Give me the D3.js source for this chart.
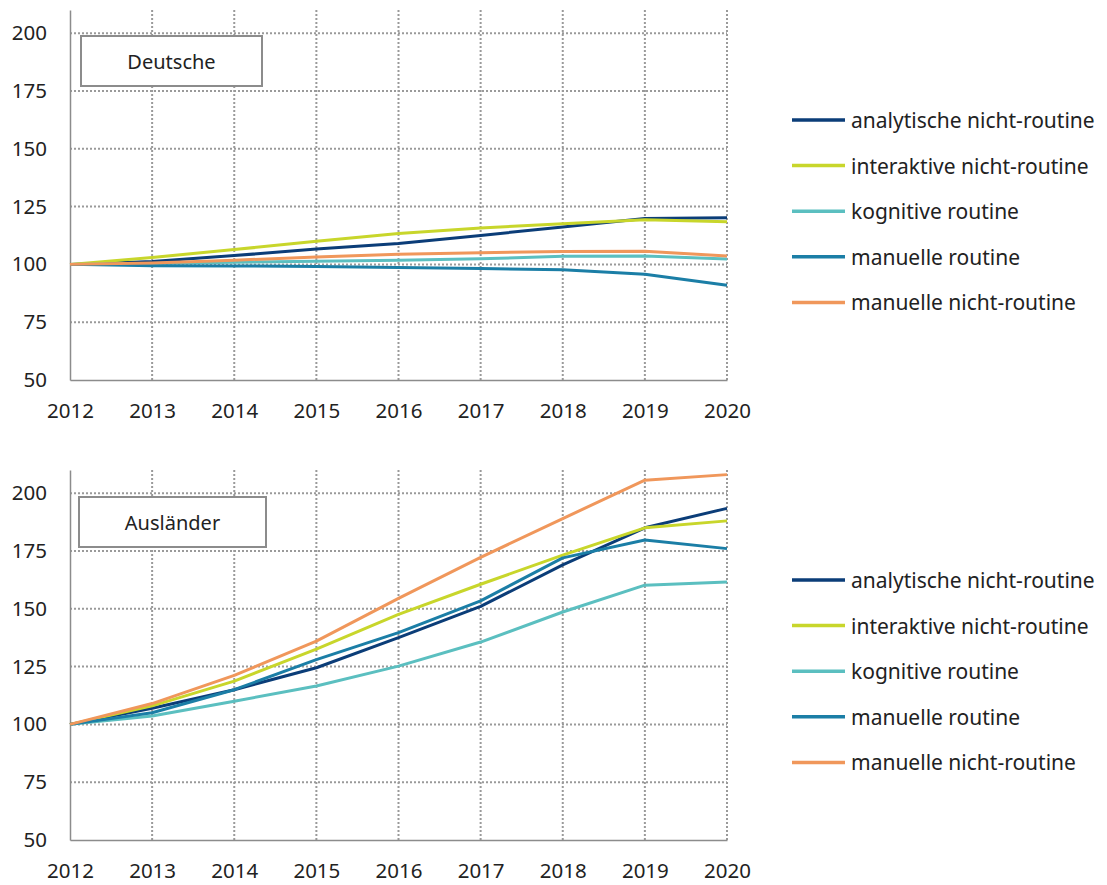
<!DOCTYPE html>
<html><head><meta charset="utf-8">
<script src="https://cdn.jsdelivr.net/npm/d3@7"></script>
<style>
body{margin:0;background:#fff;}
svg text{font-family:"Noto Sans",sans-serif;fill:#222;}
</style></head>
<body><svg id="c" width="1107" height="885"></svg>
<script>
const years = [2012,2013,2014,2015,2016,2017,2018,2019,2020];
const seriesNames = ["analytische nicht-routine","interaktive nicht-routine","kognitive routine","manuelle routine","manuelle nicht-routine"];
const seriesColors = ["#0b3d78","#c8d62b","#5bbfc0","#1b7ea6","#f0975b"];
const yTicks = [50,75,100,125,150,175,200];

// Deutsche
const deAnalytisch = [100,101.2,103.8,106.6,109.0,112.5,116.2,119.8,120.2];
const deInteraktiv = [100,103.0,106.4,110.0,113.4,115.7,117.6,119.3,118.4];
const deKognitiv   = [100,100.4,100.9,101.3,101.8,102.4,103.5,103.6,102.3];
const deManuellR   = [100,99.4,99.3,99.1,98.6,98.2,97.7,95.7,91.0];
const deManuellNR  = [100,100.6,101.8,103.2,104.4,105.0,105.6,105.7,103.6];

// Ausländer
const auAnalytisch = [100,107.0,115.0,124.5,137.5,151.0,169.0,185.0,193.4];
const auInteraktiv = [100,108.0,118.7,132.5,147.6,160.6,173.2,185.0,188.0];
const auKognitiv   = [100,103.6,110.0,116.6,125.2,135.6,148.6,160.2,161.6];
const auManuellR   = [100,105.0,115.0,128.0,139.7,153.4,172.0,179.7,176.0];
const auManuellNR  = [100,109.0,121.2,136.0,154.5,172.2,189.0,205.6,208.0];

const panels = [
  {title:"Deutsche", data:[deAnalytisch,deInteraktiv,deKognitiv,deManuellR,deManuellNR], top:10, bottom:380,
   box:[81,36,181,50], legendY:120},
  {title:"Ausländer", data:[auAnalytisch,auInteraktiv,auKognitiv,auManuellR,auManuellNR], top:470, bottom:840,
   box:[79,497,187,50], legendY:580}
];

const svg = d3.select("#c");
const x = d3.scaleLinear().domain([2012,2020]).range([70,727]);

panels.forEach(p=>{
  const y = d3.scaleLinear().domain([50,210]).range([p.bottom,p.top]);
  const g = svg.append("g");
  g.selectAll("line.hg").data(yTicks.filter(t=>t>50)).join("line")
    .attr("x1",x(2012)).attr("x2",x(2020)).attr("y1",d=>y(d)).attr("y2",d=>y(d))
    .attr("stroke","#9a9a9a").attr("stroke-width",2).attr("stroke-dasharray","2,2");
  g.selectAll("line.vg").data(years.slice(1)).join("line")
    .attr("x1",d=>x(d)).attr("x2",d=>x(d)).attr("y1",y(210)).attr("y2",y(50))
    .attr("stroke","#9a9a9a").attr("stroke-width",2).attr("stroke-dasharray","2,2");
  const ya = g.append("g").attr("transform",`translate(${x(2012)},0)`)
    .call(d3.axisLeft(y).tickValues(yTicks).tickSize(0).tickPadding(23));
  ya.select(".domain").attr("stroke","#8c8c8c").attr("stroke-width",1.5);
  ya.selectAll("text").style("font-size","20.5px").attr("fill","#222");
  const xa = g.append("g").attr("transform",`translate(0,${y(50)})`)
    .call(d3.axisBottom(x).tickValues(years).tickFormat(d3.format("d")).tickSize(0).tickPadding(23));
  xa.select(".domain").attr("stroke","#8c8c8c").attr("stroke-width",1.5);
  xa.selectAll("text").style("font-size","20.5px").attr("fill","#222");
  const line = d3.line().x((d,i)=>x(years[i])).y(d=>y(d));
  p.data.forEach((s,i)=>{
    g.append("path").datum(s).attr("d",line).attr("fill","none")
      .attr("stroke",seriesColors[i]).attr("stroke-width",3).attr("stroke-linejoin","round");
  });
  g.append("rect").attr("x",p.box[0]).attr("y",p.box[1]).attr("width",p.box[2]).attr("height",p.box[3])
    .attr("fill","#fff").attr("stroke","#8c8c8c").attr("stroke-width",2);
  g.append("text").attr("x",p.box[0]+p.box[2]/2).attr("y",p.box[1]+p.box[3]/2)
    .attr("text-anchor","middle").attr("dominant-baseline","central").style("font-size","20px").text(p.title);
  seriesNames.forEach((n,i)=>{
    const ly = p.legendY + i*45.6;
    g.append("line").attr("x1",792).attr("x2",845).attr("y1",ly).attr("y2",ly)
      .attr("stroke",seriesColors[i]).attr("stroke-width",3.5);
    g.append("text").attr("x",851).attr("y",ly).attr("dominant-baseline","central")
      .style("font-size","21px").text(n);
  });
});
</script></body></html>
